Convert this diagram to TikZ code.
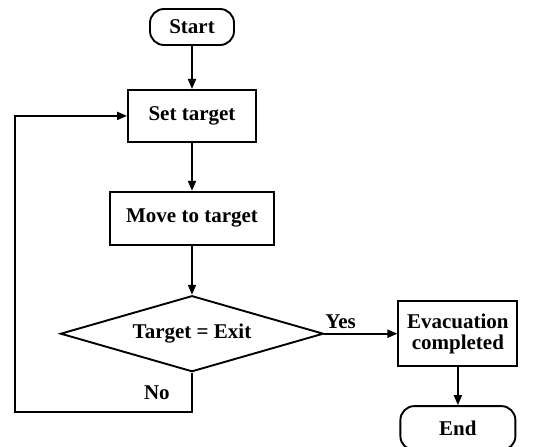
\documentclass[tikz,border=0pt]{standalone}
\usepackage{fontspec}
\setmainfont{Liberation Serif}
\usepackage{tikz}
\usetikzlibrary{shapes.geometric, arrows.meta, positioning}

\begin{document}
\begin{tikzpicture}[
    x=1pt, y=-1pt,
    every node/.style={font=\fontsize{21}{24}\selectfont\bfseries},
    terminal/.style={rectangle, rounded corners=14pt, draw, line width=1.9pt,
                     minimum height=36pt, inner sep=2pt},
    process/.style={rectangle, draw, line width=1.9pt, align=center, inner sep=2pt},
    decision/.style={diamond, draw, line width=1.9pt, aspect=3.4, inner sep=0pt,
                     minimum width=263pt, minimum height=76pt},
    arrow/.style={-{Triangle[length=10pt, width=8pt]}, line width=1.9pt}
]
\useasboundingbox (0,0) rectangle (550,447);

% Main chain
\node[terminal, minimum width=84pt] (start) at (192,27) {Start};
\node[process, minimum width=128pt, minimum height=52pt, below=43pt of start] (settarget) {Set target};
\node[process, minimum width=164pt, minimum height=53pt, below=48pt of settarget] (movetarget) {Move to target};
\node[decision, below=49pt of movetarget] (isexit) {Target = Exit};

% Exit branch
\node[process, minimum width=119pt, minimum height=65pt, right=73pt of isexit] (evacdone) {Evacuation\\[-3pt]completed};
\node[terminal, minimum width=115pt, minimum height=44pt, below=38pt of evacdone] (finish) {End};

% Loop corner
\coordinate (loopcorner) at (15,412);

% Arrows
\draw[arrow] (start) -- (settarget);
\draw[arrow] (settarget) -- (movetarget);
\draw[arrow] (movetarget) -- (isexit);
\draw[arrow] (isexit.east) -- node[pos=0, anchor=south west, xshift=-4pt, inner sep=4pt] {Yes} (evacdone);
\draw[arrow] (evacdone) -- (finish);
\draw[arrow] (isexit.south) |- node[pos=0.25, left=18pt] {No} (loopcorner) |- (settarget.west);

\end{tikzpicture}
\end{document}
